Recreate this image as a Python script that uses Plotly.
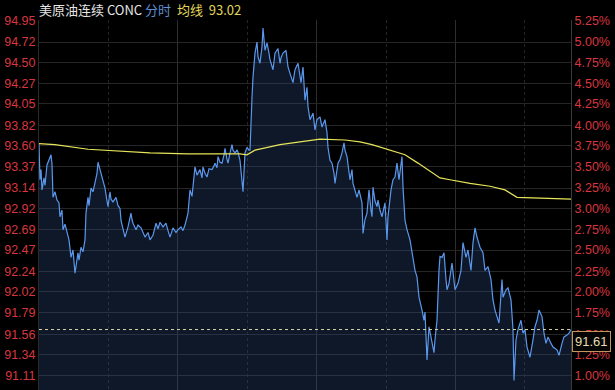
import plotly.graph_objects as go

# ---- data ----
t_idx = [0, 1, 2, 3, 5, 6, 8, 10, 12, 13, 14, 16, 18, 20, 21, 23, 24, 26, 28, 30,
         32, 34, 36, 37, 39, 40, 42, 44, 46, 47, 49, 50, 52, 54, 56, 58, 59, 60, 62, 64,
         66, 68, 69, 71, 72, 74, 77, 79, 81, 82, 84, 86, 89, 92, 93, 94, 97, 99, 102, 104,
         106, 109, 111, 114, 117, 119, 121, 124, 127, 129, 131, 134, 137, 139, 142, 144, 146, 149,
         150, 151, 153, 156, 158, 161, 163, 164, 166, 168, 170, 173, 175, 176, 178, 179, 181, 183,
         185, 186, 188, 189, 191, 193, 194, 196, 198, 199, 201, 203, 204, 206, 208, 210, 211, 213,
         214, 216, 218, 219, 221, 223, 224, 226, 228, 230, 231, 234, 236, 239, 241, 242, 244, 247,
         249, 251, 254, 256, 259, 262, 264, 266, 268, 269, 271, 274, 276, 278, 281, 283, 286, 288,
         289, 291, 293, 295, 296, 299, 301, 303, 305, 306, 308, 311, 313, 314, 316, 318, 320, 322,
         323, 324, 326, 328, 330, 332, 333, 334, 336, 338, 339, 341, 343, 346, 348, 349, 352, 354,
         356, 358, 360, 363, 364, 366, 368, 371, 374, 376, 378, 380, 383, 385, 386, 388, 390, 393,
         395, 396, 398, 400, 401, 403, 405, 407, 408, 410, 411, 413, 416, 419, 422, 424, 427, 429,
         432, 434, 436, 438, 441, 444, 446, 449, 452, 454, 456, 458, 460, 463, 464, 467, 469, 472,
         474, 475, 477, 479, 482, 484, 486, 488, 491, 494, 496, 498, 500, 503, 505, 507, 509, 512,
         514, 518, 520, 523, 525, 528, 530, 532]

price = [93.62, 93.23, 93.34, 93.12, 93.25, 93.17, 93.39, 93.44, 93.50, 93.40, 93.04, 93.10, 93.01, 92.98, 92.83, 92.90, 92.69, 92.75, 92.65, 92.58,
         92.39, 92.47, 92.22, 92.30, 92.44, 92.36, 92.50, 92.45, 92.58, 92.87, 93.04, 92.95, 93.14, 93.10, 93.19, 93.30, 93.42, 93.38, 93.30, 93.23,
         93.14, 93.00, 92.94, 93.10, 93.02, 92.99, 93.04, 92.95, 92.92, 92.79, 92.70, 92.61, 92.72, 92.87, 92.80, 92.76, 92.69, 92.74, 92.71, 92.65,
         92.61, 92.66, 92.58, 92.63, 92.76, 92.70, 92.77, 92.72, 92.76, 92.68, 92.61, 92.71, 92.66, 92.69, 92.72, 92.68, 92.74, 92.87,
         93.00, 93.12, 93.05, 93.37, 93.28, 93.34, 93.25, 93.37, 93.30, 93.26, 93.35, 93.34, 93.38, 93.41, 93.36, 93.48, 93.42, 93.41,
         93.50, 93.57, 93.45, 93.41, 93.52, 93.61, 93.55, 93.52, 93.55, 93.53, 93.44, 93.23, 93.10, 93.52, 93.58, 93.55, 93.55, 94.12,
         94.34, 94.60, 94.72, 94.56, 94.49, 94.67, 94.87, 94.63, 94.71, 94.60, 94.53, 94.42, 94.60, 94.65, 94.49, 94.55, 94.60, 94.63,
         94.45, 94.38, 94.28, 94.42, 94.49, 94.28, 94.45, 94.09, 94.23, 94.02, 93.88, 93.95, 93.77, 93.88, 93.91, 93.80, 93.88, 93.74,
         93.58, 93.44, 93.41, 93.30, 93.19, 93.41, 93.45, 93.52, 93.63, 93.55, 93.48, 93.23, 93.34, 93.19, 93.10, 93.04, 93.12, 93.00,
         92.98, 92.65, 92.80, 92.87, 93.12, 92.90, 92.83, 93.15, 93.00, 92.94, 93.01, 92.90, 92.83, 92.98, 92.58, 92.83, 93.12, 93.23,
         93.26, 93.41, 93.23, 93.48, 93.15, 92.79, 92.69, 92.58, 92.36, 92.25, 92.18, 91.96, 91.82, 91.71, 91.80, 91.28, 91.64, 91.46,
         91.36, 91.50, 91.71, 92.25, 92.40, 92.39, 92.44, 92.15, 92.04, 92.11, 92.18, 92.33, 92.04, 92.11, 92.25, 92.55, 92.39, 92.47,
         92.25, 92.55, 92.71, 92.61, 92.50, 92.44, 92.25, 92.29, 92.15, 91.93, 91.82, 91.75, 91.68, 92.15, 91.96, 92.04, 92.06, 91.93,
         91.61, 91.06, 91.50, 91.61, 91.71, 91.57, 91.61, 91.42, 91.31, 91.50, 91.64, 91.71, 91.82, 91.75, 91.57, 91.46, 91.53, 91.46,
         91.42, 91.39, 91.33, 91.46, 91.53, 91.55, 91.57, 91.61]

avg_t = [0, 16, 49, 79, 111, 149, 201, 208, 211, 216, 224, 241, 261, 281, 306, 321, 333, 351,
         366, 379, 393, 401, 411, 431, 451, 466, 478, 501, 521, 532]
avg_price = [93.62, 93.61, 93.56, 93.54, 93.52, 93.51, 93.51, 93.50, 93.52, 93.55, 93.57, 93.61,
             93.64, 93.67, 93.66, 93.64, 93.61, 93.55, 93.50, 93.41, 93.31, 93.25, 93.23, 93.19,
             93.16, 93.12, 93.04, 93.03, 93.02, 93.02]

left_ticks = ["94.95", "94.72", "94.50", "94.27", "94.05", "93.82", "93.60", "93.37", "93.14",
              "92.92", "92.69", "92.47", "92.24", "92.02", "91.79", "91.56", "91.34", "91.11"]
right_ticks = ["5.25%", "5.00%", "4.75%", "4.50%", "4.25%", "4.00%", "3.75%", "3.50%", "3.25%",
               "3.00%", "2.75%", "2.50%", "2.25%", "2.00%", "1.75%", "1.50%", "1.25%", "1.00%"]

title_name = "美原油连续 CONC"
title_mode = "分时"
title_avg = "均线"

# ---- figure ----
tickvals = [float(v) for v in left_ticks]
yrange = [90.956, 94.958]
xrange = [0, 532]

RED = "#d8363f"
NUMFONT = "Liberation Sans, Arial, sans-serif"

fig = go.Figure()
fig.add_trace(go.Scatter(
    x=t_idx, y=price, mode="lines",
    line=dict(color="#5b97ec", width=1.2),
    fill="tozeroy", fillcolor="rgba(45,75,125,0.32)",
    hoverinfo="skip", showlegend=False))
fig.add_trace(go.Scatter(
    x=avg_t, y=avg_price, mode="lines",
    line=dict(color="#e6e45a", width=1.2, shape="linear"),
    hoverinfo="skip", showlegend=False))
# invisible trace to anchor the right axis
fig.add_trace(go.Scatter(x=[t_idx[0]], y=[price[0]], yaxis="y2", mode="markers",
                         marker=dict(opacity=0), hoverinfo="skip", showlegend=False))

last = price[-1]
fig.add_shape(type="line", xref="paper", x0=0, x1=1, yref="y", y0=last, y1=last,
              line=dict(color="#d8d2a8", width=1, dash="3px,3px"))

fig.add_annotation(
    xref="paper", yref="paper", x=0, y=1, xanchor="left", yanchor="bottom",
    xshift=-2, yshift=-1,
    text=(f'<span style="color:#e6e6e6">{title_name}</span> '
          f'<span style="color:#5f8fd6">{title_mode}</span>  '
          f'<span style="color:#e0d75a">{title_avg}</span>  '
          f'<span style="color:#e0d75a">{avg_price[-1]:.2f}</span>'),
    showarrow=False, font=dict(size=13, family="Noto Sans CJK SC, Liberation Sans, sans-serif"))

fig.add_annotation(
    xref="paper", yref="y", x=1, y=last, xanchor="left", yanchor="top",
    xshift=1, yshift=-1,
    text=f"{last:.2f}", showarrow=False,
    font=dict(size=13, color="#e8dcae", family=NUMFONT),
    bgcolor="#050505", bordercolor="#c4955a", borderwidth=1, borderpad=2)

fig.update_layout(
    width=615, height=390,
    margin=dict(l=39, r=44, t=20, b=0),
    paper_bgcolor="#000000", plot_bgcolor="#000000",
    xaxis=dict(range=xrange, showticklabels=False, ticks="", zeroline=False,
               tickvals=[138.8, 277.6, 416.4], showgrid=True, gridcolor="#2e2e2e", gridwidth=1,
               minor=dict(tickvals=[69.4, 208.2, 347.0, 485.8], showgrid=True,
                          gridcolor="#262626", griddash="dot", gridwidth=1),
               showline=False),
    yaxis=dict(range=yrange, tickvals=tickvals, ticktext=left_ticks,
               tickfont=dict(color=RED, size=12.5, family=NUMFONT),
               showgrid=True, gridcolor="#262626", gridwidth=1, zeroline=False,
               ticks="", ticklen=0, showline=True, linecolor="#2a2a2a"),
    yaxis2=dict(range=yrange, overlaying="y", side="right", tickvals=tickvals,
                ticktext=right_ticks, tickfont=dict(color=RED, size=12.5, family=NUMFONT),
                showgrid=False, zeroline=False, ticks="", showline=True, linecolor="#3a3a3a"),
)

fig.write_html("out.html")
